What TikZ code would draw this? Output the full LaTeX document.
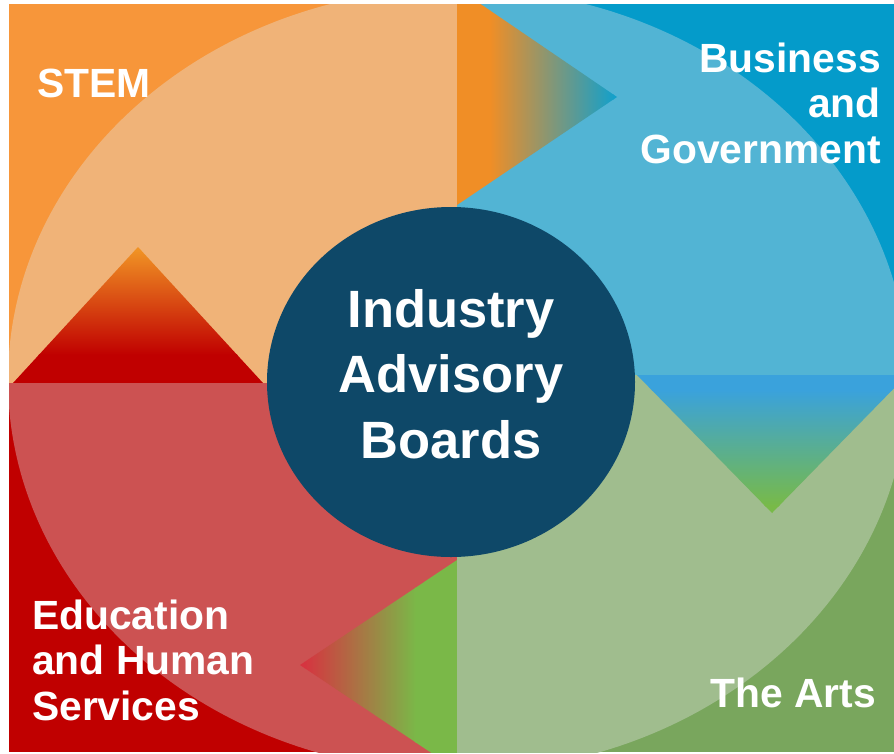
\documentclass[tikz,border=0pt]{standalone}
\usepackage{fontspec}
\setmainfont{Liberation Sans}
\definecolor{dkor}{RGB}{247,150,58}
\definecolor{ltor}{RGB}{240,179,120}
\definecolor{dkbl}{RGB}{4,155,202}
\definecolor{ltbl}{RGB}{82,180,212}
\definecolor{dkrd}{RGB}{192,0,0}
\definecolor{ltrd}{RGB}{204,82,82}
\definecolor{dkgr}{RGB}{121,166,93}
\definecolor{ltgr}{RGB}{160,189,142}
\definecolor{ctr}{RGB}{14,72,104}
\definecolor{tor}{RGB}{240,142,38}
\definecolor{tbl}{RGB}{20,160,202}
\definecolor{rbl}{RGB}{58,162,220}
\definecolor{rgr}{RGB}{120,186,72}
\definecolor{bgr}{RGB}{122,184,72}
\definecolor{brd}{RGB}{214,52,64}
\definecolor{lrd}{RGB}{192,0,0}
\definecolor{lor}{RGB}{240,146,36}
\begin{document}
\begin{tikzpicture}[x=1pt,y=-1pt,
  lbl/.style={text=white,font=\bfseries\fontsize{40.8}{45.5}\selectfont,inner sep=0pt},
  ctrtext/.style={text=white,font=\bfseries\fontsize{52.5}{65.5}\selectfont,inner sep=0pt,align=center}]
\useasboundingbox (0,0) rectangle (894,753);
\begin{scope}
\clip (9,4) rectangle (894,752);
% dark quadrants
\fill[dkor] (9,4) rectangle (457,383);
\fill[dkbl] (457,4) rectangle (894,375);
\fill[dkrd] (9,383) rectangle (457,752);
\fill[dkgr] (457,375) rectangle (894,752);
% light disc
\begin{scope}
\clip (458,380) ellipse [x radius=450, y radius=392];
\fill[ltor] (0,0) rectangle (457,383);
\fill[ltbl] (457,0) rectangle (900,375);
\fill[ltrd] (0,383) rectangle (457,760);
\fill[ltgr] (457,375) rectangle (900,760);
\end{scope}
% top arrowhead
\begin{scope}
\clip (457,-12) -- (617,97) -- (457,205) -- cycle;
\fill[tor] (457,-12) rectangle (491,205);
\shade[left color=tor, right color=tbl] (490,-12) rectangle (614,205);
\fill[tbl] (613,-12) rectangle (620,205);
\end{scope}
% right arrowhead
\begin{scope}
\clip (637,375) -- (772,513) -- (907,375) -- cycle;
\fill[rbl] (630,375) rectangle (910,391);
\shade[top color=rbl, bottom color=rgr] (630,390) rectangle (910,506);
\fill[rgr] (630,505) rectangle (910,515);
\end{scope}
% bottom arrowhead
\begin{scope}
\clip (457,560) -- (300,665) -- (457,770) -- cycle;
\fill[bgr] (415,560) rectangle (457,770);
\shade[left color=brd, right color=bgr] (304,560) rectangle (416,770);
\fill[brd] (298,560) rectangle (305,770);
\end{scope}
% left arrowhead
\begin{scope}
\clip (13,383) -- (138,247) -- (263,383) -- cycle;
\fill[lrd] (10,354) rectangle (266,383);
\shade[top color=lor, bottom color=lrd] (10,250) rectangle (266,355);
\fill[lor] (10,245) rectangle (266,251);
\end{scope}
\end{scope}
% centre
\fill[ctr] (451,382) ellipse [x radius=184, y radius=175];
\node[ctrtext, anchor=base] (iab) at (451,458) {Industry\\Advisory\\Boards};
% labels
\node[lbl, anchor=base west] (stem) at (37,97) {STEM};
\node[lbl, anchor=base east, align=right] (bus) at (881,163) {Business\\and\\Government};
\node[lbl, anchor=base west, align=left] (edu) at (32,720) {Education\\and Human\\Services};
\node[lbl, anchor=base east] (arts) at (876,707) {The Arts};
\end{tikzpicture}
\end{document}
